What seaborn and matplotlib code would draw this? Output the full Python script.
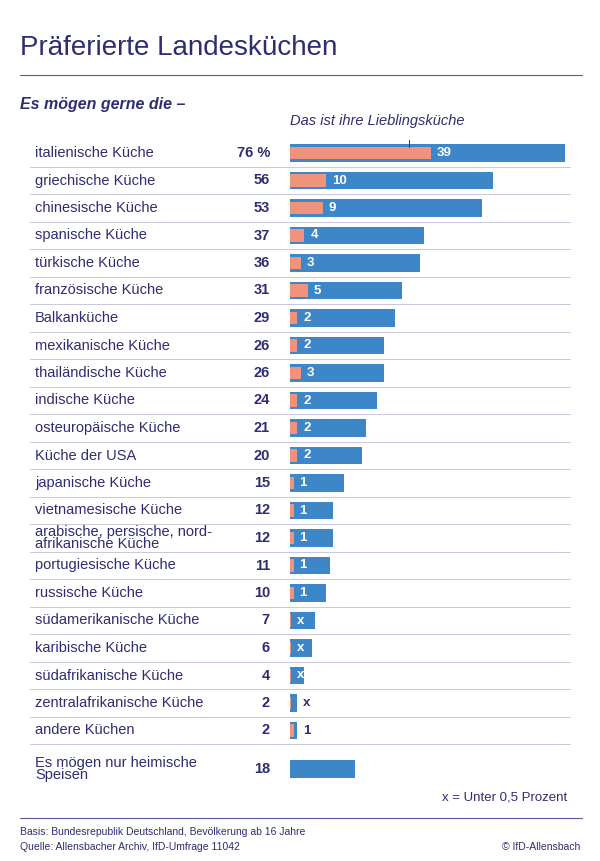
import matplotlib
matplotlib.use("Agg")
import matplotlib.pyplot as plt
import seaborn as sns
import pandas as pd

categories = ["italienische Küche","griechische Küche","chinesische Küche","spanische Küche",
    "türkische Küche","französische Küche","Balkanküche","mexikanische Küche","thailändische Küche",
    "indische Küche","osteuropäische Küche","Küche der USA","japanische Küche","vietnamesische Küche",
    "arabische, persische, nord-\nafrikanische Küche","portugiesische Küche","russische Küche",
    "südamerikanische Küche","karibische Küche","südafrikanische Küche","zentralafrikanische Küche",
    "andere Küchen","Es mögen nur heimische\nSpeisen"]
liked = [76,56,53,37,36,31,29,26,26,24,21,20,15,12,12,11,10,7,6,4,2,2,18]
favorite = [39,10,9,4,3,5,2,2,3,2,2,2,1,1,1,1,1,0.3,0.3,0.3,0.3,1,None]
fav_labels = ["39","10","9","4","3","5","2","2","3","2","2","2","1","1","1","1","1","x","x","x","x","1",""]

navy = "#2e2d73"; blue = "#3d87c9"; orange = "#f0937c"
sns.set_theme(style="white")
plt.rcParams["font.family"] = ["Liberation Sans", "DejaVu Sans"]

ypos = [float(i) for i in range(22)] + [22.4]
df = pd.DataFrame({"cat": categories, "liked": liked, "y": ypos})
dff = pd.DataFrame({"fav": [f for f in favorite if f is not None], "y": ypos[:22]})

fig = plt.figure(figsize=(6, 8.61), dpi=100)
W, H = 600, 861
ax = fig.add_axes([30/W, 1-785/H, 545/W, 645/H])
sns.barplot(data=df, x="liked", y="y", orient="h", native_scale=True, color=blue, width=0.62,
            saturation=1, linewidth=0, ax=ax)
sns.barplot(data=dff, x="fav", y="y", orient="h", native_scale=True, color=orange, width=0.46,
            saturation=1, linewidth=0, ax=ax)
sc = 275/76
ax.set_xlim(-260/sc, 285/sc)
ax.set_ylim((785-153)/27.5, -13/27.5)
ax.axis("off")

for i, (c, v, y) in enumerate(zip(categories, liked, ypos)):
    ax.text(-255/sc, y, c, ha="left", va="center", fontsize=10.5, color=navy, linespacing=0.85)
    ax.text(-20/sc, y, f"{v} %" if i == 0 else str(v), ha="right", va="center", fontsize=10.5,
            color=navy, fontweight="bold")
    if i < 22:
        ax.plot([-260/sc, 280/sc], [y+0.5, y+0.5], color="#c8c8d8", lw=0.7)
for i, (f, lab) in enumerate(zip(favorite[:22], fav_labels[:22])):
    if liked[i] > 3:
        ax.text(f + 1.6, ypos[i], lab, ha="left", va="center", fontsize=9.5, color="white", fontweight="bold")
    else:
        ax.text(liked[i] + 1.6, ypos[i], lab, ha="left", va="center", fontsize=9.5, color=navy, fontweight="bold")
ax.text(0, -1.15, "Das ist ihre Lieblingsküche", ha="left", va="center", fontsize=10.5,
        style="italic", color=navy)
ax.plot([33, 33], [-0.9, -0.23], color=navy, lw=0.7)

fig.text(20/W, 1-48/H, "Präferierte Landesküchen", fontsize=20, color=navy, va="center")
fig.add_artist(plt.Line2D([20/W, 582/W], [1-75/H, 1-75/H], color="#5a5aa0", lw=0.8))
fig.text(20/W, 1-104/H, "Es mögen gerne die –", fontsize=11.5, color=navy, fontweight="bold",
         style="italic", va="center")
fig.text(567/W, 1-797/H, "x = Unter 0,5 Prozent", fontsize=9.5, color=navy, ha="right", va="center")
fig.add_artist(plt.Line2D([20/W, 582/W], [1-818/H, 1-818/H], color="#5a5aa0", lw=0.8))
fig.text(20/W, 1-832/H, "Basis: Bundesrepublik Deutschland, Bevölkerung ab 16 Jahre", fontsize=7.5, color=navy, va="center")
fig.text(20/W, 1-847/H, "Quelle: Allensbacher Archiv, IfD-Umfrage 11042", fontsize=7.5, color=navy, va="center")
fig.text(580/W, 1-847/H, "© IfD-Allensbach", fontsize=7.5, color=navy, va="center", ha="right")
fig.savefig("out.png", dpi=100)
